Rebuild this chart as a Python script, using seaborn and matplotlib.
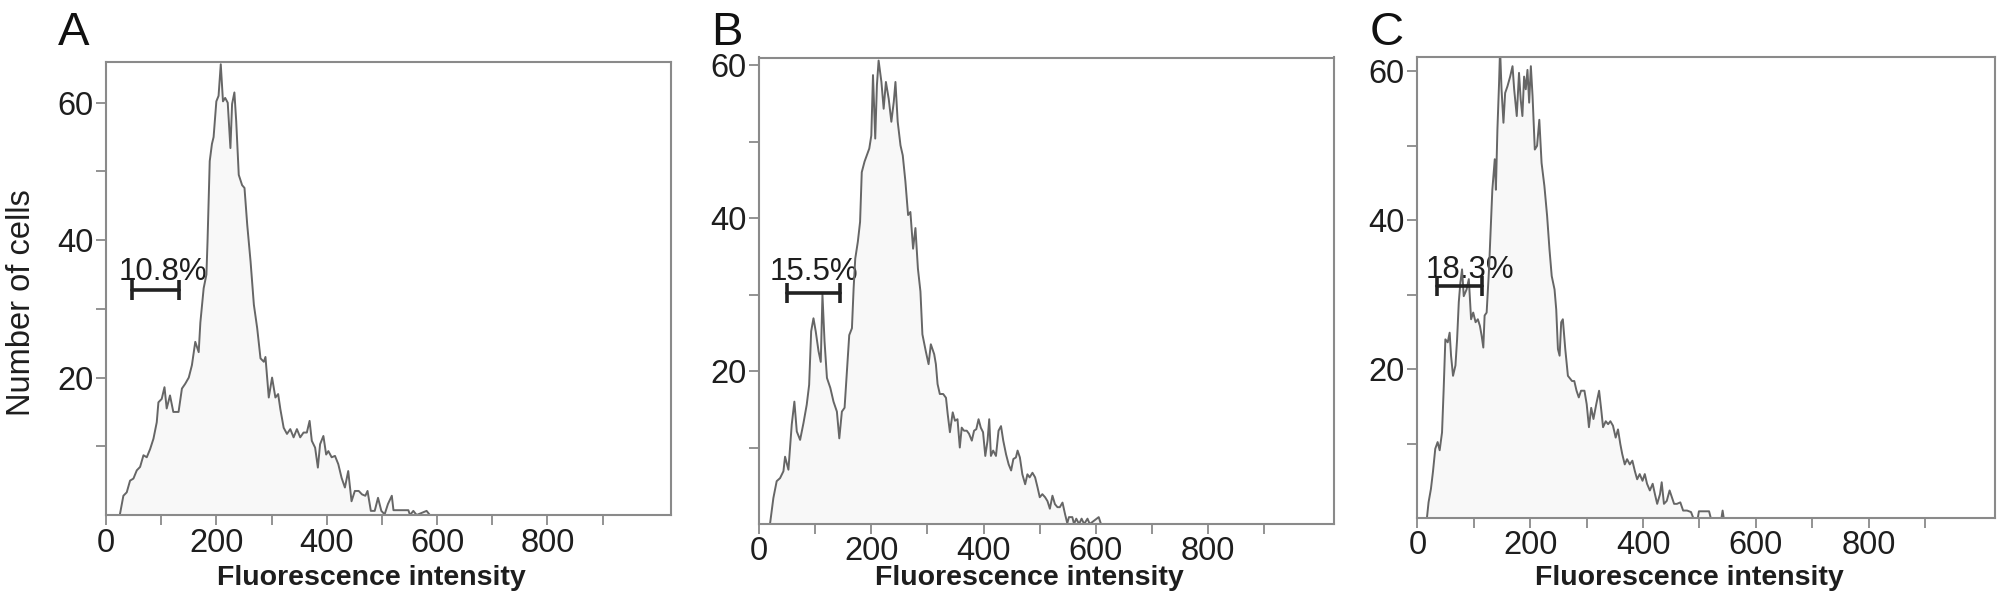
import numpy as np
import matplotlib
matplotlib.use('Agg')
import matplotlib.pyplot as plt
from matplotlib.ticker import FixedLocator
import seaborn as sns

# --- histogram traces (channel, number of cells) ---
a_x = [25, 31.5, 37.6, 43.6, 49.7, 55.8, 61.8, 67.9, 73.9, 80, 86, 92, 95, 101, 106, 110, 116, 122,
       131.5, 137.6, 143.6, 150, 155.7, 161.8, 168, 171, 177, 182, 184, 188, 192, 195, 200, 204, 208,
       212, 216, 220.6, 225.5, 228.5, 232.7, 236, 240.6, 246.7, 251, 256, 262, 268, 274, 280, 286,
       289, 295, 301, 307, 312, 316, 322, 328, 334, 340, 346, 352, 358, 364, 369, 373, 379, 384, 388,
       394, 399, 403, 409, 415, 421, 427, 433, 439, 445, 451, 458, 464, 470, 474, 480, 487, 493, 499,
       505, 511, 518, 521, 530, 548, 551, 557, 563, 581, 587]
a_y = [0, 2.8, 3.3, 5, 5.3, 6.5, 7, 8.7, 8.4, 9.6, 11.1, 13.5, 16.4, 16.9, 18.6, 15.5, 17.4, 15,
       15, 18.4, 19.1, 20, 21.8, 25.2, 23.7, 28, 33, 35, 39.8, 51.5, 54, 55, 60.2, 61, 65.6,
       60.2, 60.7, 60, 53.4, 59.8, 61.5, 57.3, 49.5, 48, 47.6, 42.2, 36.9, 30.6, 27.2, 22.8, 22.3,
       23, 17.1, 20, 17.1, 17.6, 15.4, 12.7, 11.8, 12.5, 11.3, 12.5, 11.3, 12, 12, 13.7, 10.8, 9.8, 6.9, 10.3,
       11.5, 8.8, 9.3, 8.4, 8.6, 7.4, 5.4, 4, 6.4, 2, 3.5, 3.5, 3, 2.8, 3.5, 0.6, 0.6, 2.5, 0.6,
       0.1, 1.6, 2.8, 0.7, 0.7, 0.7, 0, 0.6, 0, 0.6, 0]

b_x = [19.6, 25.6, 31.5, 37.5, 43.5, 46.4, 52.4, 58.3, 63, 67.3, 73.2, 79.2, 85, 89.3, 92.9, 97, 101,
       106, 110, 113, 116.7, 121, 127, 132.7, 138.7, 143, 147.6, 152.4, 156.5, 160.7, 165.5, 168.5,
       171.4, 176, 180, 183, 188, 192, 196.4, 200, 203, 207, 210, 213, 218, 222, 226, 231, 235.7,
       240, 243, 247, 252, 256, 260.7, 265.5, 269.6, 274.4, 278.6, 283, 287.5,
       291, 297, 302, 306, 312, 315, 318, 322, 328, 333, 336, 340, 345, 349, 353.5, 357.6, 361, 365,
       370, 374, 379, 383, 387, 391, 395, 399, 403, 407, 410, 413, 417, 422, 426.6, 431, 435, 440,
       444.6, 449, 453, 457.5, 460.5, 464.6, 469, 474, 478, 482, 487, 491.7, 496, 500, 504.6, 509.5,
       513.7, 518, 522.6, 527, 531.5, 535.7, 540.5, 545, 549, 552, 558, 561, 565, 570, 574.5, 579,
       585, 589, 605, 609]
b_y = [0, 3.4, 5.6, 6, 6.9, 8.8, 7.1, 13, 16, 12.1, 11, 13.2, 15.6, 18.2, 25.2, 26.9, 25.2,
       22.6, 21.2, 30, 23.9, 19.1, 17.8, 16, 14.7, 11.2, 14.7, 15.2, 19.9, 24.7, 25.6, 30.8,
       34.7, 36.9, 39.5, 46, 47.4, 48.2, 49.1, 50.8, 58.7, 50.4, 57.4, 60.6, 57.8, 54.3, 57.8, 55.6, 52.6,
       55.2, 57.8, 52.6, 49.5, 48.2, 44.8, 40.4, 40.8, 36, 38.7, 33.4, 30.4,
       24.8, 22.6, 20.9, 23.5, 22.2, 20.9, 18.3, 17, 17, 16.5, 14.4, 12, 14.6, 13.5, 13.7, 10, 12.6, 12.2,
       12.2, 11.8, 10.9, 12.2, 12.4, 13.7, 12.6, 12, 8.9, 10.9, 13.7, 8.9, 9.6, 8.9, 12.2, 12.8, 10.9, 9.1,
       7.8, 7, 8.5, 8.7, 9.6, 8.7, 6.5, 5.2, 6.5, 6.1, 6.7, 6.1, 4.8, 3.5, 3.9, 3.5,
       3, 2, 3.7, 2.6, 2.2, 2.2, 2.8, 1.3, 0.1, 0.9, 0.9, 0, 0.7, 0, 0.7, 0,
       0.7, 0, 0.9, 0]

c_x = [16.7, 19.6, 23.8, 27.4, 31.5, 35.7, 39.3, 43.5, 46.4, 49.4, 53.6, 57, 59.5, 63, 67.3, 70.2,
       73.2, 76, 79, 82, 87, 91, 95, 98.8, 103, 107, 110.7, 113.7, 116.7, 119, 122.6, 126.8, 129.8,
       132.7, 137, 139, 141.7, 144.6, 146.4, 149, 152.4, 155.4, 159.5, 164.3, 168.5, 171.4, 176, 180,
       183, 186, 189, 192, 195, 198, 201, 204, 208, 212, 216, 220, 225, 229.8, 234, 238, 243, 246,
       249, 252, 254.8, 257.7, 262, 266.7,
       274, 278, 282, 286, 290, 296, 300, 304, 308, 312, 317, 322, 326, 329, 333.8, 338, 342, 346.6,
       351.4, 355.5, 359.7, 363, 367.5, 371.6, 376.4, 381, 385.4, 389.5, 394, 399, 403, 407, 412, 417,
       421, 425, 430, 433, 437, 442, 447, 451, 455, 460, 466, 471, 478, 485, 489, 497, 499, 517, 520,
       539, 541, 543]
c_y = [0, 2.1, 3.9, 6.2, 9.3, 10.2, 9.1, 11.5, 17.3, 24, 23.6, 24.9, 21.8, 19.1, 20.5, 24,
       29, 31.6, 33.4, 29.8, 30.7, 32.1, 26.7, 27.6, 26.3, 26.7, 25.8, 24.5, 22.9, 27.2, 27.6, 33.4, 38.8,
       44.1, 48.2, 44.1, 52.2, 58.4, 63, 57.6, 53.1, 57.1, 58, 59.3, 60.7, 57.6, 54, 59.8,
       56.2, 54, 59.3, 57.6, 60.2, 55.8, 60.7, 56.7, 49.5, 50, 53.5, 47.7, 44.6, 40.6, 36.1, 32.5, 30.7, 28,
       22.7, 21.8, 26.3, 26.7, 22.7, 19.1,
       18.4, 18.4, 17.1, 16.2, 17.1, 17.1, 15.3, 12.2, 14.8, 13.3, 15.3, 17.1, 14.4, 12.2, 13, 12.6, 13, 12.4,
       10.8, 11.9, 9.9, 8.6, 7.2, 7.9, 7.2, 7.7, 6.3, 5.2, 5.9, 5, 5.9, 4.6, 3.7, 4.6,
       3.2, 1.9, 3.2, 4.8, 1.9, 2.3, 3.7, 2.8, 1.9, 1.9, 2.1, 1, 1, 0.8, 0, 0, 0.9, 0.9, 0,
       0, 1, 0]

panel_letters = ['A', 'B', 'C']
gate_labels = ['10.8%', '15.5%', '18.3%']
gate_start = [46.7, 49.4, 34.5]
gate_end = [131.5, 144.6, 114.9]
gate_level = [32.8, 30.2, 31.2]
label_x = [22, 19.6, 13.7]
label_y = [34.2, 31.9, 32.3]
y_top = [66, 61, 62]

sns.set_style('white')
plt.rcParams['font.family'] = ['Liberation Sans', 'DejaVu Sans']

fig = plt.figure(figsize=(20.08, 6.04), dpi=100)
W, H = 2008, 604
# axes boxes in pixels: left, top, right, bottom
boxes = [(106, 61.5, 671, 515), (759, 57.5, 1334, 524), (1417.5, 56.5, 1995, 518)]
traces = [(a_x, a_y), (b_x, b_y), (c_x, c_y)]

line_col = '#666666'
spine_col = '#8a8a8a'
text_col = '#1e1e1e'

for i, (l, t, r, b) in enumerate(boxes):
    ax = fig.add_axes([l / W, 1 - b / H, (r - l) / W, (b - t) / H])
    xs, ys = traces[i]
    ax.fill_between(xs, ys, 0, color='#f8f8f8', zorder=0.5, linewidth=0)
    sns.lineplot(x=xs, y=ys, ax=ax, color=line_col, linewidth=1.4,
                 estimator=None, sort=False, zorder=2)

    ax.set_xlim(0, 1024)
    ax.set_ylim(0, y_top[i])
    ax.xaxis.set_major_locator(FixedLocator([0, 200, 400, 600, 800]))
    ax.xaxis.set_minor_locator(FixedLocator([100, 300, 500, 700, 900]))
    ax.yaxis.set_major_locator(FixedLocator([20, 40, 60]))
    ax.yaxis.set_minor_locator(FixedLocator([10, 30, 50]))
    ax.tick_params(which='both', direction='out', length=7, width=1.3,
                   color=spine_col, labelsize=23.5, labelcolor=text_col, pad=2)
    ax.tick_params(axis='y', which='both', left=True)
    ax.tick_params(axis='x', which='both', bottom=True)
    for s in ax.spines.values():
        s.set_color(spine_col)
        s.set_linewidth(1.5)

    # gate marker and percentage
    ax.text(label_x[i], label_y[i], gate_labels[i], fontsize=22.5, color=text_col,
            ha='left', va='baseline', zorder=1)
    ax.plot([gate_start[i], gate_end[i]], [gate_level[i], gate_level[i]],
            color='#222222', linewidth=2.6, marker='|', markersize=14,
            markeredgewidth=2.6, zorder=3)

    ax.set_xlabel('Fluorescence intensity', fontsize=20.5, fontweight='bold', color=text_col)
    ax.xaxis.set_label_coords(0.47, (b - 565) / (b - t))
    ax.xaxis.label.set_va('top')

    if i == 0:
        ax.set_ylabel('Number of cells', fontsize=23.5, color=text_col)
        ax.yaxis.set_label_coords((37 - l) / (r - l), (b - 303) / (b - t))
    else:
        ax.set_ylabel('')

    fig.text((l - 48) / W, 1 - 45 / H, panel_letters[i], fontsize=34,
             color='#111111', ha='left', va='baseline')

fig.savefig('out.png', dpi=100)
